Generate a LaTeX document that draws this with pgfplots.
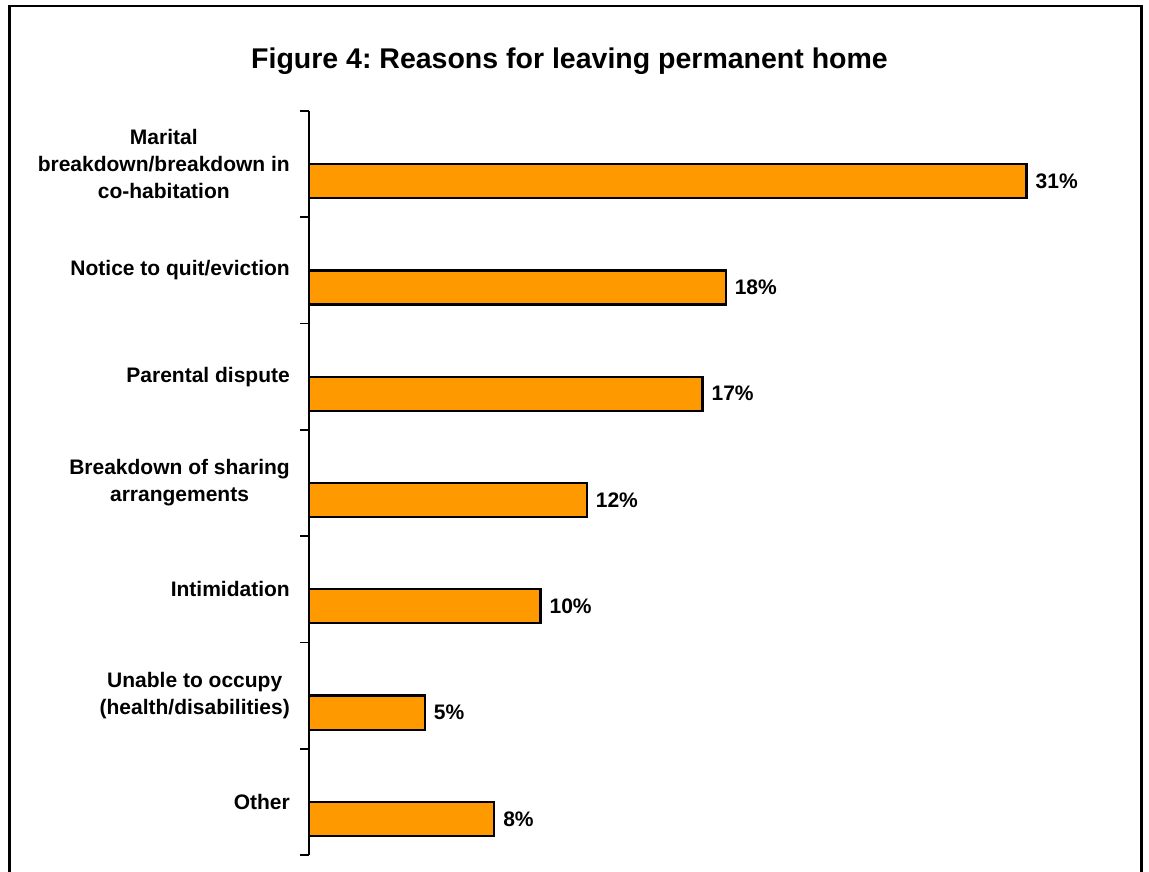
\documentclass[border=0pt]{standalone}
\usepackage{fontspec}
\setmainfont{Liberation Sans}
\usepackage{pgfplots}
\pgfplotsset{compat=1.18}
\definecolor{barorange}{RGB}{255,153,0}
\frenchspacing
\begin{document}
\begin{tikzpicture}[x=1bp,y=1bp]
\useasboundingbox (0,0) rectangle (1149,-872);
\fill[white] (0,0) rectangle (1149,-872);
\draw[line width=2.5bp] (9.5,-872) -- (9.5,-6.2) -- (1141.3,-6.2) -- (1141.3,-872);
\node[anchor=base, font=\bfseries\fontsize{28.5bp}{34bp}\selectfont, inner sep=0] at (569.5,-68) {Figure 4: Reasons for leaving permanent home};
\begin{axis}[
  at={(309bp,-855bp)}, anchor=south west,
  scale only axis, width=787bp, height=744bp,
  xmin=0, xmax=34, ymin=-0.5, ymax=6.5, y dir=reverse,
  axis x line=none, axis y line=left, axis line style={-, line width=1.8bp, black},
  ytick={0,...,6},
  yticklabels={{Marital\\breakdown/breakdown in\\co-habitation}, Notice to quit/eviction, Parental dispute, {Breakdown of sharing\\arrangements}, Intimidation, {Unable to occupy\\(health/disabilities)}, Other},
  yticklabel style={align=center, font=\bfseries\fontsize{21bp}{27bp}\selectfont, inner sep=0, anchor=east, xshift=-19bp},
  major tick length=0,
  extra y ticks={-0.5,0.5,1.5,2.5,3.5,4.5,5.5,6.5},
  extra y tick labels={},
  extra y tick style={major tick length=9bp, tick align=outside, tick style={line width=1.8bp, black}, every tick/.style={line width=1.8bp, black}},
  /pgf/number format/assume math mode=true,
  xbar, bar width=0.32,
  nodes near coords={\pgfmathprintnumber{\pgfplotspointmeta}\%},
  nodes near coords style={font=\bfseries\fontsize{21bp}{25bp}\selectfont, anchor=west, inner sep=0, xshift=8bp},
  clip=false,
]
\addplot[fill=barorange, draw=black, line width=2.2bp] coordinates {(31,0.16) (18,1.16) (17,2.16) (12,3.16) (10,4.16) (5,5.16) (8,6.16)};
\end{axis}
\end{tikzpicture}
\end{document}
